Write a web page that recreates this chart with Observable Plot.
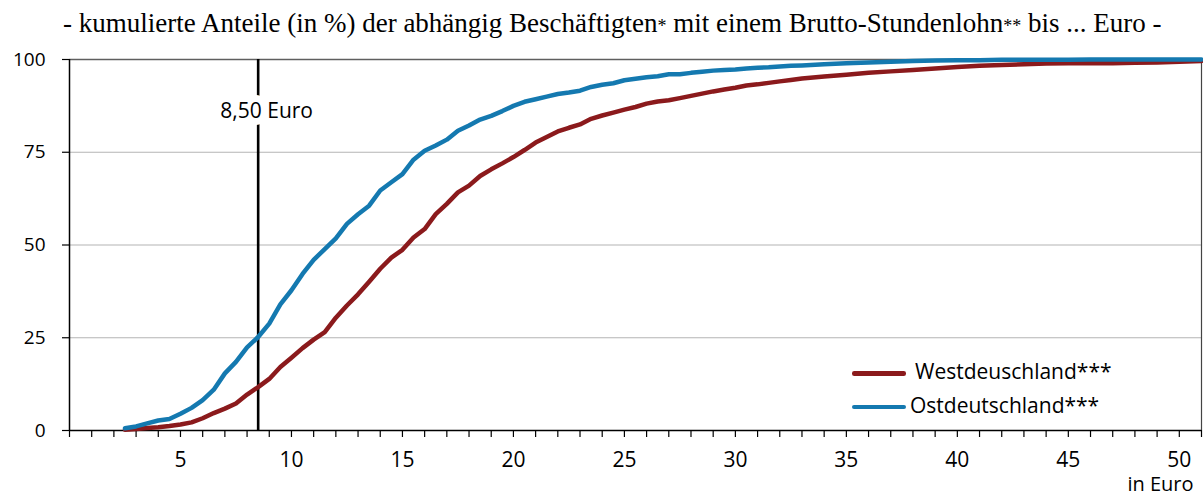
<!DOCTYPE html>
<html>
<head>
<meta charset="utf-8">
<script src="https://cdn.jsdelivr.net/npm/d3@7"></script>
<script src="https://cdn.jsdelivr.net/npm/@observablehq/plot@0.6"></script>
<style>
  html, body { margin: 0; padding: 0; background: #fff; }
  #wrap { position: relative; width: 1203px; height: 494px; overflow: hidden; }
  #title { position: relative; height: 45px; }
  #title span.t { position: absolute; left: 63px; top: 10px; font-family: "Liberation Serif", "Times New Roman", serif; font-size: 27px; line-height: 27px; white-space: nowrap; color: #000; }
  #title span.s { font-size: 18px; }
  .leg { position: absolute; font-family: "Open Sans", sans-serif; font-size: 21px; line-height: 21px; white-space: nowrap; color: #000; }
  .sw { position: absolute; height: 4.5px; border-radius: 2.25px; }
</style>
</head>
<body>
<div id="wrap">
  <div id="title"><span class="t">- kumulierte Anteile (in %) der abhängig Beschäftigten<span class="s">*</span> mit einem Brutto-Stundenlohn<span class="s">**</span> bis ... Euro -</span></div>
  <div id="chart"></div>
</div>
<script>
// Hourly wage in Euro (x)
const euro = [2.5,3,3.5,4,4.5,5,5.5,6,6.5,7,7.5,8,8.5,9,9.5,10,10.5,11,11.5,12,12.5,13,13.5,14,14.5,15,15.5,16,16.5,17,17.5,18,18.5,19,19.5,20,20.5,21,21.5,22,22.5,23,23.5,24,24.5,25,25.5,26,26.5,27,27.5,28,28.5,29,29.5,30,30.5,31,31.5,32,32.5,33,34,35,36,37,38,39,40,41,42,43,44,45,46,47,48,49,50,51];
// cumulative share (%) Westdeutschland
const west = [0.2,0.4,0.7,0.9,1.2,1.6,2.2,3.3,4.7,5.9,7.3,9.7,11.7,13.9,17.1,19.6,22.2,24.5,26.5,30.4,33.7,36.7,40.1,43.6,46.6,48.7,52.0,54.3,58.3,61.1,64.2,66.0,68.6,70.4,72.0,73.7,75.6,77.6,79.1,80.6,81.6,82.5,84.0,84.9,85.7,86.5,87.2,88.1,88.7,89.0,89.6,90.2,90.8,91.4,91.9,92.4,93.0,93.3,93.7,94.1,94.5,94.9,95.4,95.9,96.4,96.8,97.2,97.6,98.0,98.3,98.5,98.7,98.9,99.0,99.0,99.0,99.1,99.2,99.4,99.6];
// cumulative share (%) Ostdeutschland
const ost = [0.6,1.1,1.9,2.7,3.1,4.5,6.1,8.2,11.0,15.4,18.5,22.4,25.2,28.8,34.0,37.8,42.2,46.0,48.9,51.8,55.7,58.3,60.6,64.7,66.9,69.1,73.0,75.4,76.8,78.4,80.8,82.2,83.8,84.8,86.1,87.5,88.6,89.3,90.0,90.7,91.1,91.6,92.6,93.2,93.6,94.4,94.8,95.2,95.5,96.0,96.0,96.4,96.7,97.0,97.2,97.3,97.6,97.8,97.9,98.1,98.3,98.4,98.7,99.0,99.2,99.4,99.6,99.7,99.8,99.8,99.9,99.9,99.9,99.9,100,100,100,100,100,100];

const seriesNames = ["Westdeuschland***", "Ostdeutschland***"];
const seriesColors = ["#8b1a1c", "#1479b0"];
const yTicks = [0, 25, 50, 75, 100];
const xTicks = d3.range(0, 52, 1);
const xLabelStep = 5;
const minWage = 8.5;
const minWageLabel = "8,50 Euro";
const minWageLabelY = 86;
const xUnit = "in Euro";

const westData = euro.map((x, i) => ({x, y: west[i]}));
const ostData = euro.map((x, i) => ({x, y: ost[i]}));

const chart = Plot.plot({
  width: 1203,
  height: 449,
  marginTop: 14,
  marginBottom: 64,
  marginLeft: 69,
  marginRight: 2,
  x: {domain: [0, 51]},
  y: {domain: [0, 100]},
  style: {fontFamily: "'Open Sans', sans-serif", fontSize: "20px", color: "#000", background: "#fff", overflow: "visible"},
  marks: [
    Plot.ruleY([25, 50, 75], {stroke: "#b4b4b4", strokeWidth: 1.2}),
    Plot.ruleY([100], {stroke: "#5f5f5f", strokeWidth: 1.6}),
    Plot.ruleX([51], {stroke: "#444", strokeWidth: 1.2}),
    Plot.axisY({ticks: yTicks, tickSize: 7, tickPadding: 17, label: null, fontSize: 19, stroke: "#000", strokeWidth: 1.2}),
    Plot.axisX({ticks: xTicks, tickSize: 7, tickPadding: 15, label: null, fontSize: 21, stroke: "#000", strokeWidth: 1.2,
      tickFormat: d => (d > 0 && d % xLabelStep === 0) ? String(d) : ""}),
    Plot.ruleX([0], {stroke: "#000", strokeWidth: 1.5}),
    Plot.ruleY([0], {stroke: "#000", strokeWidth: 1.5}),
    Plot.ruleX([minWage], {stroke: "#000", strokeWidth: 2.6}),
    Plot.text([minWageLabel], {x: () => minWage, y: () => minWageLabelY, text: d => d, dx: 8.5, fontSize: 21,
      fill: "#000", stroke: "#fff", strokeWidth: 14, paintOrder: "stroke"}),
    Plot.line(westData, {x: "x", y: "y", stroke: seriesColors[0], strokeWidth: 4.5, strokeLinejoin: "round", strokeLinecap: "round"}),
    Plot.line(ostData, {x: "x", y: "y", stroke: seriesColors[1], strokeWidth: 4.5, strokeLinejoin: "round", strokeLinecap: "round"}),
    Plot.text([xUnit], {frameAnchor: "bottom-right", text: d => d, dx: -8, dy: 46, lineAnchor: "top", textAnchor: "end", fontSize: 20})
  ]
});
document.getElementById("chart").appendChild(chart);

// Legend (HTML, overlaid inside the plot area)
const wrap = document.getElementById("wrap");
const legendPos = [
  {swLeft: 852, swTop: 371, textLeft: 915, textTop: 361},
  {swLeft: 852, swTop: 404.5, textLeft: 910, textTop: 395}
];
seriesNames.forEach((name, i) => {
  const sw = document.createElement("div");
  sw.className = "sw";
  sw.style.left = legendPos[i].swLeft + "px";
  sw.style.top = legendPos[i].swTop + "px";
  sw.style.width = "54px";
  sw.style.background = seriesColors[i];
  wrap.appendChild(sw);
  const t = document.createElement("div");
  t.className = "leg";
  t.style.left = legendPos[i].textLeft + "px";
  t.style.top = legendPos[i].textTop + "px";
  t.textContent = name;
  wrap.appendChild(t);
});
</script>
</body>
</html>
